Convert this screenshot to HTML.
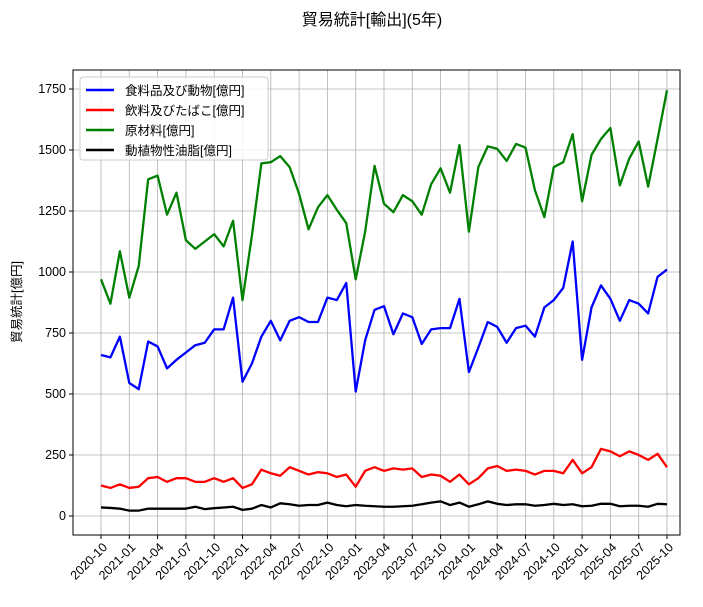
<!DOCTYPE html>
<html><head><meta charset="utf-8"><style>
body{margin:0;background:#fff;}
svg text{font-family:"Liberation Sans","Noto Sans CJK JP",sans-serif;}
</style></head><body>
<svg id="c" width="703" height="602" xmlns="http://www.w3.org/2000/svg"></svg>
<script>
const months=[];for(let i=0;i<61;i++){const m=(9+i)%12+1,y=2020+Math.floor((9+i)/12);months.push(y+'-'+String(m).padStart(2,'0'));}
const food=[660,650,735,545,520,715,695,605,640,670,700,710,765,765,895,550,625,735,800,720,800,815,795,795,895,885,955,510,720,845,860,745,830,815,705,765,770,770,890,590,690,795,775,710,770,780,735,855,885,935,1125,640,855,945,890,800,885,870,830,980,1010];
const drinks=[125,115,130,115,120,155,160,140,155,155,140,140,155,140,155,115,130,190,175,165,200,185,170,180,175,160,170,120,185,200,185,195,190,195,160,170,165,140,170,130,155,195,205,185,190,185,170,185,185,175,230,175,200,275,265,245,265,250,230,255,200];
const raw=[970,870,1085,895,1025,1380,1395,1235,1325,1130,1095,1125,1155,1105,1210,885,1150,1445,1450,1475,1430,1320,1175,1265,1315,1255,1200,970,1165,1435,1280,1245,1315,1290,1235,1360,1425,1325,1520,1165,1430,1515,1505,1455,1525,1510,1335,1225,1430,1450,1565,1290,1480,1545,1590,1355,1465,1535,1350,1545,1745];
const oils=[35,33,30,22,22,30,30,30,30,30,38,28,32,35,38,25,30,45,35,52,48,42,45,45,55,45,40,45,42,40,38,38,40,42,48,55,60,45,55,38,48,60,50,45,48,48,42,45,50,45,48,40,42,50,50,40,42,42,38,50,48];
const yTicks=[0,250,500,750,1000,1250,1500,1750];
const names=['食料品及び動物[億円]','飲料及びたばこ[億円]','原材料[億円]','動植物性油脂[億円]'];
const colors=['#0000ff','#ff0000','#008000','#000000'];
const series=[food,drinks,raw,oils];
const svg=document.getElementById('c');const NS='http://www.w3.org/2000/svg';
function el(t,a,p){const e=document.createElementNS(NS,t);for(const k in a)e.setAttribute(k,a[k]);(p||svg).appendChild(e);return e;}
const X=i=>101+i*(566/60), Y=v=>516-v*0.244;
const L=73,R=680,T=70,B=535;
for(let i=0;i<61;i+=3){const x=X(i);
 const g=el('line',{x1:x,x2:x,y1:T,y2:B,stroke:'#b0b0b0','stroke-width':0.8});
 el('line',{x1:x,x2:x,y1:B,y2:B+4,stroke:'#000'});
 const ax=x+7, ay=B+13;
 const t=el('text',{x:ax,y:ay,'font-size':12.5,'text-anchor':'end',transform:`rotate(-45 ${ax} ${ay})`});t.textContent=months[i];
 }
yTicks.forEach(v=>{const y=Y(v);
 const g=el('line',{x1:L,x2:R,y1:y,y2:y,stroke:'#b0b0b0','stroke-width':0.8});
 el('line',{x1:L-4,x2:L,y1:y,y2:y,stroke:'#000'});
 const t=el('text',{x:L-7,y:y+4,'font-size':12.5,'text-anchor':'end'});t.textContent=v;
 });
series.forEach((s,k)=>{const p=el('polyline',{points:s.map((v,i)=>X(i)+','+Y(v)).join(' '),fill:'none',stroke:colors[k],'stroke-width':2.3,'stroke-linejoin':'round'});
 });
const f=el('rect',{x:L,y:T,width:R-L,height:B-T,fill:'none',stroke:'#000','stroke-width':1});
const lg=el('g',{});
el('rect',{x:80,y:77,width:188,height:83,fill:'#fff','fill-opacity':0.85,stroke:'#ccc',rx:3},lg);
names.forEach((n,k)=>{const y=90+k*20;el('line',{x1:86,x2:114,y1:y,y2:y,stroke:colors[k],'stroke-width':2.5},lg);
 const t=el('text',{x:125,y:y+5,'font-size':12.5},lg);t.textContent=n;});
const tt=el('text',{x:372,y:25,'font-size':16,'text-anchor':'middle'});tt.textContent='貿易統計[輸出](5年)';
const yl=el('text',{x:21,y:302,'font-size':12.5,'text-anchor':'middle',transform:'rotate(-90 21 302)'});yl.textContent='貿易統計[億円]';
</script>
</body></html>
